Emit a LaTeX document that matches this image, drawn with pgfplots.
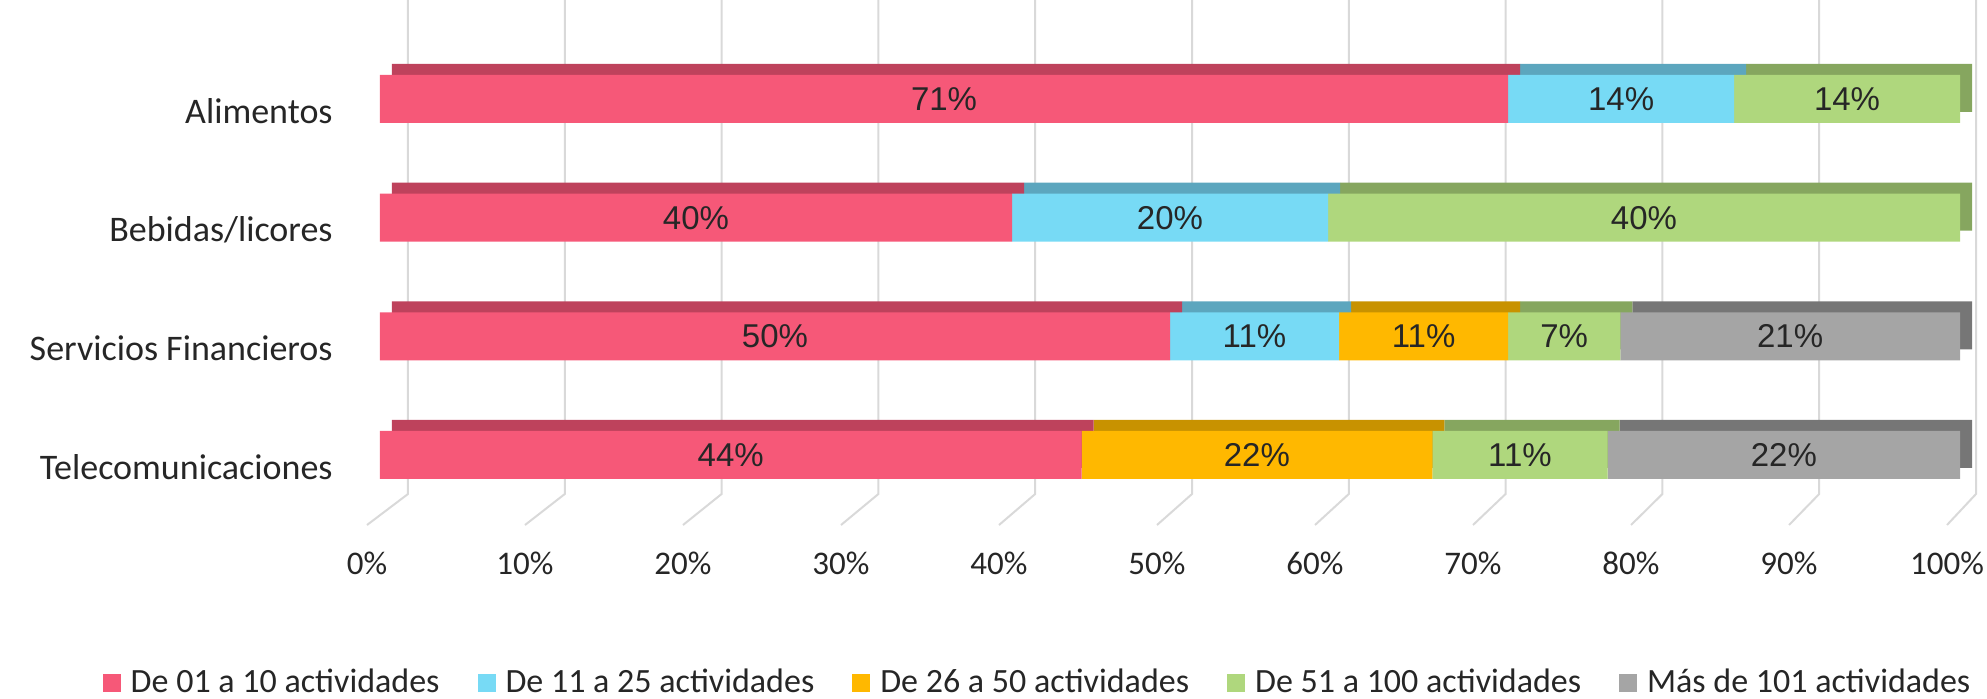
\documentclass[border=0pt]{standalone}
\usepackage{pgfplots}
\pgfplotsset{compat=1.18}
\usepackage{fontspec}
\setmainfont{Carlito}
\newfontfamily\arialf{Liberation Sans}
\definecolor{pinkF}{RGB}{246,88,120}
\definecolor{pinkT}{RGB}{190,66,92}
\definecolor{cyanF}{RGB}{119,218,245}
\definecolor{cyanT}{RGB}{92,166,190}
\definecolor{orangeF}{RGB}{255,184,0}
\definecolor{orangeT}{RGB}{200,146,0}
\definecolor{greenF}{RGB}{175,215,125}
\definecolor{greenT}{RGB}{134,166,95}
\definecolor{greyF}{RGB}{165,165,165}
\definecolor{greyT}{RGB}{118,118,118}
\definecolor{gridc}{RGB}{217,217,217}
\definecolor{txt}{RGB}{38,38,38}

\pgfplotstableread{
y  a    b    c    d    e
0  44.4 0    22.2 11.1 22.3
1  50.0 10.7 10.7 7.1  21.5
2  40.0 20.0 0    40.0 0
3  71.4 14.3 0    14.3 0
}\data

\pgfplotsset{base/.style={scale only axis, width=790pt, height=262.5pt,
  xmin=0, xmax=100, ymin=-0.59, ymax=3.834, clip=false,
  at={(0,0)}, anchor=south west}}

\begin{document}
\begin{tikzpicture}
\path[use as bounding box] (-190pt,-86.5pt) rectangle (803.5pt,262.5pt);
% gridlines: back wall and floor
\foreach \v in {0,10,...,100}{
  \draw[gridc, line width=1pt] ({(14+7.84*\v)*1pt},262.5pt) -- ({(14+7.84*\v)*1pt},15.5pt) -- ({(-6.5+7.9*\v)*1pt},0pt);
}
% back (depth) faces
\begin{axis}[base, hide axis, xshift=6pt, yshift=5.5pt, xbar stacked, bar width=24pt]
\addplot[fill=pinkT, draw=none] table[x=a, y=y] {\data};
\addplot[fill=cyanT, draw=none] table[x=b, y=y] {\data};
\addplot[fill=orangeT, draw=none] table[x=c, y=y] {\data};
\addplot[fill=greenT, draw=none] table[x=d, y=y] {\data};
\addplot[fill=greyT, draw=none] table[x=e, y=y] {\data};
\end{axis}
% front faces
\begin{axis}[base, xbar stacked, bar width=24pt,
  axis line style={draw=none}, tick style={draw=none},
  xtick={0,10,...,100},
  xticklabels={0\%,10\%,20\%,30\%,40\%,50\%,60\%,70\%,80\%,90\%,100\%},
  ytick={0,1,2,3},
  yticklabels={Telecomunicaciones,Servicios Financieros,Bebidas/licores,Alimentos},
  xticklabel style={anchor=north, inner sep=0pt, yshift=-13.5pt, xshift=-6.5pt, font=\fontsize{16.5}{19}\selectfont, text=txt},
  yticklabel style={anchor=east, inner sep=0pt, xshift=-23.5pt, yshift=-6pt, font=\fontsize{18}{21}\selectfont, text=txt},
  legend columns=5,
  legend style={at={(0.4168,-0.300)}, anchor=center, draw=none, fill=none,
    font=\fontsize{17}{19}\selectfont, text=txt,
    /tikz/every odd column/.append style={column sep=3pt},
    /tikz/every even column/.append style={column sep=17pt}},
  legend image code/.code={\path[#1,draw=none] (0pt,-4.5pt) rectangle (9pt,4.5pt);}]
\addplot[fill=pinkF, draw=none] table[x=a, y=y] {\data};
\addlegendentry{De 01 a 10 actividades}
\addplot[fill=cyanF, draw=none] table[x=b, y=y] {\data};
\addlegendentry{De 11 a 25 actividades}
\addplot[fill=orangeF, draw=none] table[x=c, y=y] {\data};
\addlegendentry{De 26 a 50 actividades}
\addplot[fill=greenF, draw=none] table[x=d, y=y] {\data};
\addlegendentry{De 51 a 100 actividades}
\addplot[fill=greyF, draw=none] table[x=e, y=y] {\data};
\addlegendentry{Más de 101 actividades}
\end{axis}
% data labels
\begin{axis}[base, hide axis]
\addplot[only marks, mark=none, point meta=explicit symbolic, nodes near coords,
  every node near coord/.append style={anchor=center, font=\arialf\fontsize{16.5}{19}\selectfont, text=txt}]
coordinates {
(35.7,3) [71\%] (78.55,3) [14\%] (92.85,3) [14\%]
(20,2) [40\%] (50,2) [20\%] (80,2) [40\%]
(25,1) [50\%] (55.35,1) [11\%] (66.05,1) [11\%] (74.95,1) [7\%] (89.25,1) [21\%]
(22.2,0) [44\%] (55.5,0) [22\%] (72.15,0) [11\%] (88.85,0) [22\%]
};
\end{axis}
\end{tikzpicture}
\end{document}
